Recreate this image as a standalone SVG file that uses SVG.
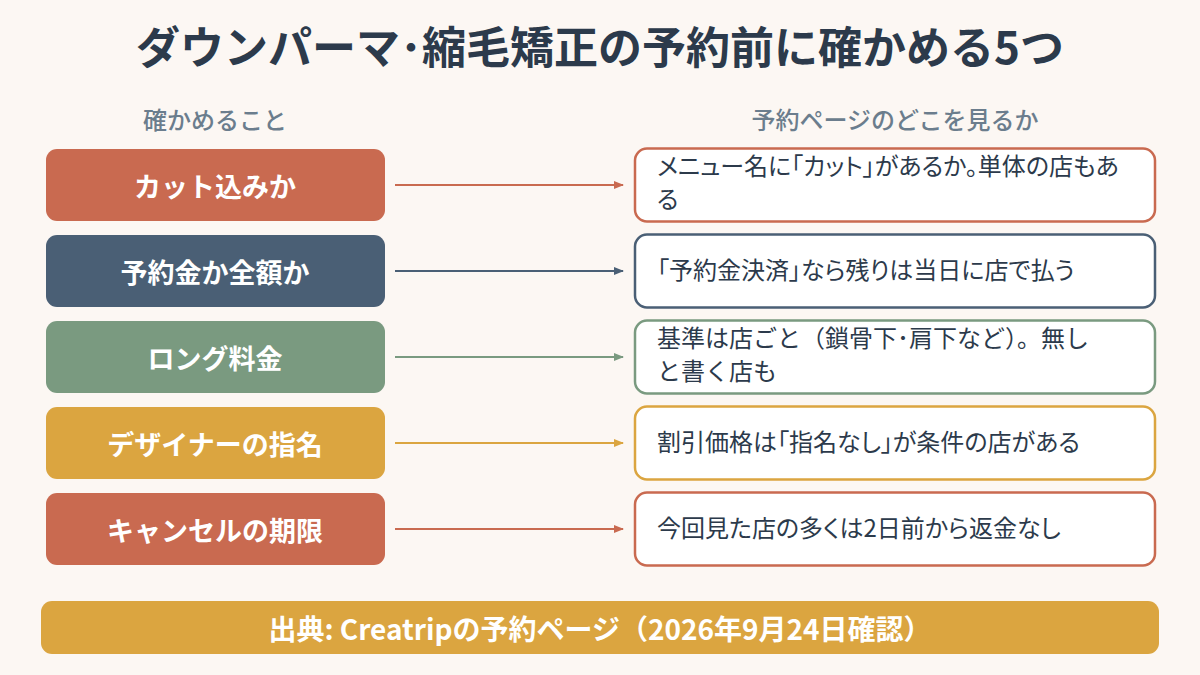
<svg xmlns="http://www.w3.org/2000/svg" width="1200" height="675" viewBox="0 0 1200 675">
<defs>
<style>
text{font-family:"Noto Sans CJK JP","Noto Sans",sans-serif;}
.title{font-size:44px;font-weight:700;fill:#2c3a4b;text-anchor:middle;}
.hdr{font-size:24px;fill:#6b7d8d;text-anchor:middle;font-weight:500;}
.lbl{font-size:27px;font-weight:700;fill:#ffffff;text-anchor:middle;dominant-baseline:central;}
.desc{font-size:24px;fill:#2c3a4b;font-feature-settings:"palt";}
.desc.full{font-feature-settings:normal;}
.lbox{stroke:none;}
.rbox{fill:#ffffff;stroke-width:2.5;}
.foot{font-size:28px;font-weight:700;fill:#ffffff;text-anchor:middle;dominant-baseline:central;}
.conn{stroke-width:2;fill:none;}
</style>
<marker id="mr" markerWidth="10" markerHeight="10" refX="9" refY="5" orient="auto" markerUnits="userSpaceOnUse"><path d="M0,1 L10,5 L0,9 Z" fill="#c96a50"/></marker>
<marker id="mb" markerWidth="10" markerHeight="10" refX="9" refY="5" orient="auto" markerUnits="userSpaceOnUse"><path d="M0,1 L10,5 L0,9 Z" fill="#4a5f75"/></marker>
<marker id="mg" markerWidth="10" markerHeight="10" refX="9" refY="5" orient="auto" markerUnits="userSpaceOnUse"><path d="M0,1 L10,5 L0,9 Z" fill="#7a9a80"/></marker>
<marker id="my" markerWidth="10" markerHeight="10" refX="9" refY="5" orient="auto" markerUnits="userSpaceOnUse"><path d="M0,1 L10,5 L0,9 Z" fill="#dba540"/></marker>
</defs>
<rect width="1200" height="675" fill="#fcf7f3"/>
<text class="title" x="600" y="64">ダウンパーマ･縮毛矯正の予約前に確かめる5つ</text>
<text class="hdr" x="215" y="129">確かめること</text>
<text class="hdr" x="895" y="129">予約ページのどこを見るか</text>

<g id="connectors">
<line class="conn" x1="395" y1="185" x2="623" y2="185" stroke="#c96a50" marker-end="url(#mr)"/>
<line class="conn" x1="395" y1="271" x2="623" y2="271" stroke="#4a5f75" marker-end="url(#mb)"/>
<line class="conn" x1="395" y1="357" x2="623" y2="357" stroke="#7a9a80" marker-end="url(#mg)"/>
<line class="conn" x1="395" y1="443" x2="623" y2="443" stroke="#dba540" marker-end="url(#my)"/>
<line class="conn" x1="395" y1="529" x2="623" y2="529" stroke="#c96a50" marker-end="url(#mr)"/>
</g>

<g id="n1">
<rect class="lbox" x="46" y="149" width="339" height="72" rx="11" fill="#c96a50"/>
<text class="lbl" x="215" y="185">カット込みか</text>
</g>
<g id="n2">
<rect class="lbox" x="46" y="235" width="339" height="72" rx="11" fill="#4a5f75"/>
<text class="lbl" x="215" y="271">予約金か全額か</text>
</g>
<g id="n3">
<rect class="lbox" x="46" y="321" width="339" height="72" rx="11" fill="#7a9a80"/>
<text class="lbl" x="215" y="357">ロング料金</text>
</g>
<g id="n4">
<rect class="lbox" x="46" y="407" width="339" height="72" rx="11" fill="#dba540"/>
<text class="lbl" x="215" y="443">デザイナーの指名</text>
</g>
<g id="n5">
<rect class="lbox" x="46" y="493" width="339" height="72" rx="11" fill="#c96a50"/>
<text class="lbl" x="215" y="529">キャンセルの期限</text>
</g>

<g id="d1">
<rect class="rbox" x="635" y="148.5" width="520" height="73" rx="12" stroke="#c96a50"/>
<text class="desc" x="657" y="175">メニュー名に「カット」があるか。単体の店もあ</text>
<text class="desc" x="657" y="208">る</text>
</g>
<g id="d2">
<rect class="rbox" x="635" y="234.5" width="520" height="73" rx="12" stroke="#4a5f75"/>
<text class="desc" x="657" y="279">「予約金決済」なら残りは当日に店で払う</text>
</g>
<g id="d3">
<rect class="rbox" x="635" y="320.5" width="520" height="73" rx="12" stroke="#7a9a80"/>
<text class="desc full" x="657" y="347">基準は店ごと（鎖骨下･肩下など）。無し</text>
<text class="desc full" x="657" y="380">と書く店も</text>
</g>
<g id="d4">
<rect class="rbox" x="635" y="406.5" width="520" height="73" rx="12" stroke="#dba540"/>
<text class="desc" x="657" y="451">割引価格は「指名なし」が条件の店がある</text>
</g>
<g id="d5">
<rect class="rbox" x="635" y="492.5" width="520" height="73" rx="12" stroke="#c96a50"/>
<text class="desc" x="657" y="537">今回見た店の多くは2日前から返金なし</text>
</g>

<g id="footer">
<rect x="41" y="601" width="1118" height="53" rx="11" fill="#dba540"/>
<text class="foot" x="600" y="628">出典: Creatripの予約ページ（2026年9月24日確認）</text>
</g>
</svg>
